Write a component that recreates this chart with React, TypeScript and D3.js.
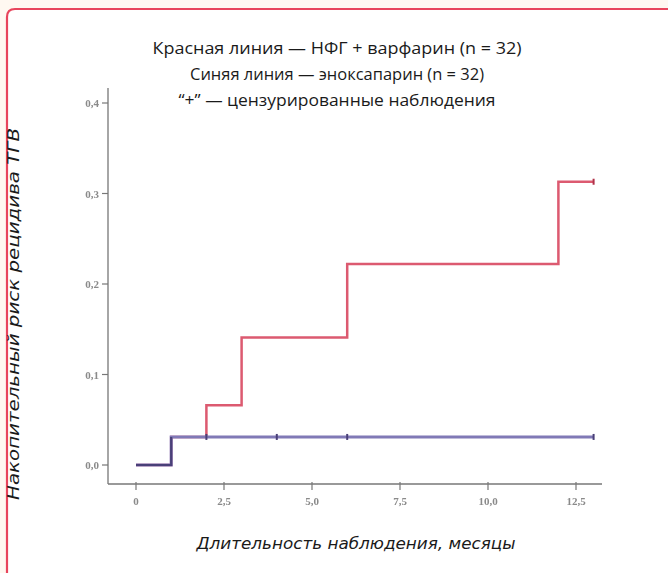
import React from "react";
import * as d3 from "d3";

// Kaplan–Meier step data: event times (months) and cumulative risk
const redTimes = [0, 1, 2, 3, 6, 12, 13];
const redRisk = [0, 0.031, 0.066, 0.141, 0.222, 0.313, 0.313];
const blueTimes = [0, 1, 13];
const blueRisk = [0, 0.031, 0.031];

// censored observations ("+")
const redCensored = [13];
const blueCensored = [2, 4, 6, 13];

const xTicks = [0, 2.5, 5, 7.5, 10, 12.5];
const yTicks = [0, 0.1, 0.2, 0.3, 0.4];

const titleLines = [
  "Красная линия — НФГ + варфарин (n = 32)",
  "Синяя линия — эноксапарин (n = 32)",
  "“+” — цензурированные наблюдения",
];
const titleWidths = [369, 294, 317];
const xTitle = "Длительность наблюдения, месяцы";
const yTitle = "Накопительный риск рецидива ТГВ";

const W = 668;
const H = 573;

const fmt = (v: number) => (v === 0 ? "0" : d3.format(".1f")(v).replace(".", ","));
const fmtY = (v: number) => d3.format(".1f")(v).replace(".", ",");

export default function App() {
  const x = d3.scaleLinear().domain([0, 12.5]).range([136, 576]);
  const y = d3.scaleLinear().domain([0, 0.4]).range([465, 103]);

  const line = d3
    .line<[number, number]>()
    .x((d) => x(d[0]))
    .y((d) => y(d[1]))
    .curve(d3.curveStepAfter);

  const red = redTimes.map((t, i) => [t, redRisk[i]] as [number, number]);
  const blue = blueTimes.map((t, i) => [t, blueRisk[i]] as [number, number]);
  const shared = blue.filter((d) => d[0] <= 1);

  const riskAt = (times: number[], risk: number[], t: number) => {
    let v = 0;
    times.forEach((tt, i) => {
      if (tt <= t) v = risk[i];
    });
    return v;
  };

  const axisY = 484;
  const axisX = 108;
  const tickFont = "'Liberation Serif', serif";

  return (
    <svg
      width={W}
      height={H}
      style={{ position: "absolute", left: 0, top: 0, background: "#fff8f1" }}
    >
      <defs>
        <filter id="soft" x="-5%" y="-5%" width="110%" height="110%">
          <feGaussianBlur stdDeviation="0.55" />
        </filter>
      </defs>
      {/* panel */}
      <path
        d={`M7,${H + 10} L7,17 Q7,9 15,9 L${W + 10},9 L${W + 10},${H + 10} Z`}
        fill="#ffffff"
        stroke="#e8455c"
        strokeWidth={2.2}
      />

      {/* title */}
      <g
        fontFamily="'Open Sans', 'Noto Sans', sans-serif"
        fontSize={16}
        fill="#1a1a1a"
        textAnchor="middle"
      >
        {titleLines.map((t, i) => (
          <text
            key={i}
            x={337}
            y={54 + i * 26}
            textLength={titleWidths[i]}
            lengthAdjust="spacingAndGlyphs"
          >
            {t}
          </text>
        ))}
      </g>

      {/* axes */}
      <g filter="url(#soft)">
        <line x1={axisX} y1={88} x2={axisX} y2={axisY} stroke="#777" strokeWidth={1.3} />
        <line x1={axisX} y1={axisY} x2={602} y2={axisY} stroke="#777" strokeWidth={1.3} />
        {yTicks.map((v) => (
          <g key={v}>
            <line x1={axisX - 6} x2={axisX} y1={y(v)} y2={y(v)} stroke="#777" strokeWidth={1.2} />
            <text
              x={axisX - 9}
              y={y(v) + 4}
              fontFamily={tickFont}
              fontSize={11}
              fontWeight="bold"
              fill="#8a8a8a"
              textAnchor="end"
            >
              {fmtY(v)}
            </text>
          </g>
        ))}
        {xTicks.map((v) => (
          <g key={v}>
            <line x1={x(v)} x2={x(v)} y1={axisY - 2} y2={axisY + 6} stroke="#777" strokeWidth={1.2} />
            <text
              x={x(v)}
              y={axisY + 21}
              fontFamily={tickFont}
              fontSize={11}
              fontWeight="bold"
              fill="#8a8a8a"
              textAnchor="middle"
            >
              {fmt(v)}
            </text>
          </g>
        ))}

        {/* survival curves */}
        <path d={line(red) ?? ""} fill="none" stroke="#dc5a70" strokeWidth={2.5} />
        <path d={line(blue) ?? ""} fill="none" stroke="#8079b6" strokeWidth={3} />
        <path
          d={(line(shared) ?? "") + `V${y(blueRisk[1])}`}
          fill="none"
          stroke="#4a3f78"
          strokeWidth={2.2}
        />

        {/* censor marks */}
        {blueCensored.map((t) => (
          <line
            key={"b" + t}
            x1={x(t)}
            x2={x(t)}
            y1={y(riskAt(blueTimes, blueRisk, t)) - 3}
            y2={y(riskAt(blueTimes, blueRisk, t)) + 3}
            stroke="#4a3f78"
            strokeWidth={2}
          />
        ))}
        {redCensored.map((t) => (
          <line
            key={"r" + t}
            x1={x(t)}
            x2={x(t)}
            y1={y(riskAt(redTimes, redRisk, t)) - 3}
            y2={y(riskAt(redTimes, redRisk, t)) + 3}
            stroke="#b03048"
            strokeWidth={2}
          />
        ))}
      </g>

      {/* axis titles */}
      <text
        x={356}
        y={549}
        fontFamily="'DejaVu Sans', sans-serif"
        fontStyle="italic"
        fontSize={15}
        fill="#1a1a1a"
        textAnchor="middle"
        textLength={319}
        lengthAdjust="spacingAndGlyphs"
      >
        {xTitle}
      </text>
      <text
        transform={`translate(19,314) rotate(-90)`}
        fontFamily="'DejaVu Sans', sans-serif"
        fontStyle="italic"
        fontSize={15}
        fill="#1a1a1a"
        textAnchor="middle"
        textLength={372}
        lengthAdjust="spacingAndGlyphs"
      >
        {yTitle}
      </text>
    </svg>
  );
}
